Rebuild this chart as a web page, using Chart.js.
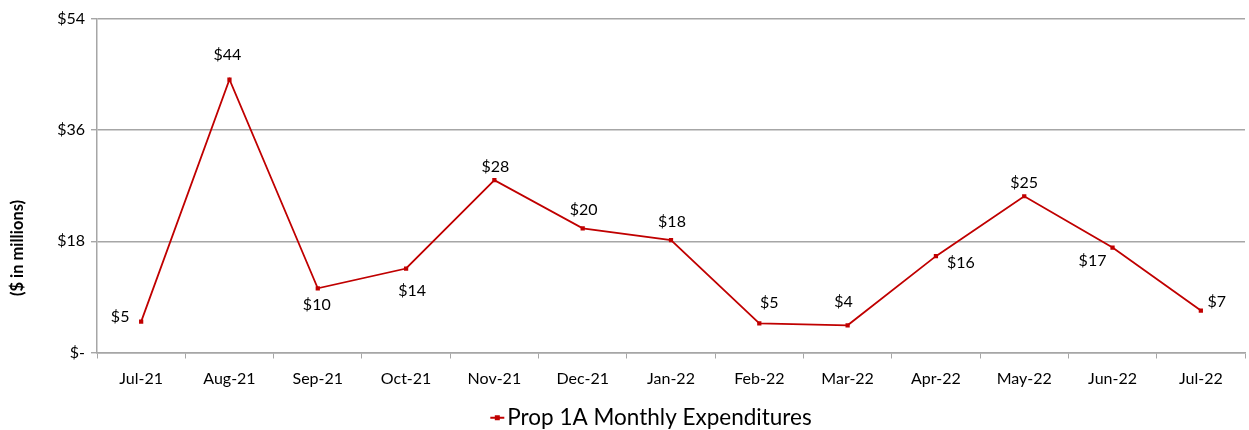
<!DOCTYPE html>
<html>
<head>
<meta charset="utf-8">
<script src="https://cdn.jsdelivr.net/npm/chart.js@4/dist/chart.umd.min.js"></script>
<style>
  html, body { margin:0; padding:0; background:#fff; }
  #wrap { width:1249px; height:430px; }
</style>
</head>
<body>
<div id="wrap"><canvas id="myChart" width="1249" height="430"></canvas></div>
<script>
// months on the x axis
const months = ['Jul-21','Aug-21','Sep-21','Oct-21','Nov-21','Dec-21','Jan-22','Feb-22','Mar-22','Apr-22','May-22','Jun-22','Jul-22'];
// expenditures in $ millions
const spending = [5.0, 44.2, 10.4, 13.6, 27.9, 20.1, 18.2, 4.7, 4.4, 15.6, 25.3, 17.0, 6.8];
// labels shown next to each point
const pointLabels = ['$5','$44','$10','$14','$28','$20','$18','$5','$4','$16','$25','$17','$7'];
const yTicks = [0, 18, 36, 54];

// label nudges (px from the point, label centre)
const labelDx = [-21, -2, -1, 6, 1, 1, 1, 10, -4, 25, 0, -20, 16];
const labelDy = [-5, -25, 17, 22, -13, -19, -18, -21, -23, 7, -13, 13, -9];

const red = '#c00000';
const fontFam = 'Lato, "Open Sans", sans-serif';
const legendFont = 22.5;
const legendBox = 58.75;

const labelPlugin = {
  id: 'pointLabels',
  afterDatasetsDraw(chart){
    const ctx = chart.ctx;
    const meta = chart.getDatasetMeta(0);
    ctx.save();
    ctx.font = '16px ' + fontFam;
    ctx.fillStyle = '#000';
    ctx.textAlign = 'center';
    ctx.textBaseline = 'middle';
    meta.data.forEach((pt,i)=>{
      ctx.fillText(pointLabels[i], pt.x + labelDx[i], pt.y + labelDy[i]);
    });
    ctx.restore();
  }
};

// y title + legend marker (line with a square)
const extrasPlugin = {
  id: 'extras',
  afterDraw(chart){
    const ctx = chart.ctx;
    ctx.save();
    ctx.translate(18, 248);
    ctx.rotate(-Math.PI/2);
    ctx.font = 'bold 16.5px ' + fontFam;
    ctx.fillStyle = '#000';
    ctx.textAlign = 'center';
    ctx.textBaseline = 'middle';
    ctx.fillText('($ in millions)', 0, 0);
    ctx.restore();

    let box = chart.legend.legendHitBoxes[0];
    if(!box) return;
    let textX = box.left + legendBox + legendFont/2;
    let cy = box.top + box.height/2;
    ctx.save();
    ctx.strokeStyle = red; ctx.lineWidth = 2;
    ctx.beginPath(); ctx.moveTo(textX-17, cy); ctx.lineTo(textX-3, cy); ctx.stroke();
    ctx.fillStyle = red; ctx.fillRect(textX-12.5, cy-2.5, 5, 5);
    ctx.restore();
  }
};

const ctx = document.getElementById('myChart');
const myChart = new Chart(ctx, {
  type: 'line',
  data: {
    labels: months,
    datasets: [{
      label: 'Prop 1A Monthly Expenditures',
      data: spending,
      borderColor: red,
      backgroundColor: red,
      borderWidth: 1.8,
      pointStyle: 'rect',
      pointRadius: 3,
      pointBackgroundColor: red,
      pointBorderWidth: 0,
      tension: 0
    }]
  },
  options: {
    responsive: false,
    animation: false,
    layout: { padding: { top: 19, right: 0, left: 0, bottom: -9 } },
    plugins: {
      tooltip: { enabled: false },
      legend: {
        position: 'bottom',
        labels: {
          boxWidth: legendBox,
          boxHeight: 8,
          color: '#000',
          font: { family: fontFam, size: legendFont },
          padding: 2,
          generateLabels(chart){
            return [{
              text: chart.data.datasets[0].label,
              fillStyle: 'rgba(0,0,0,0)',
              strokeStyle: 'rgba(0,0,0,0)',
              lineWidth: 0,
              fontColor: '#000',
              datasetIndex: 0
            }];
          }
        }
      }
    },
    scales: {
      x: {
        offset: true,
        grid: { display: true, drawOnChartArea: false, drawTicks: true, tickLength: 6, color: '#a6a6a6', offset: true },
        border: { color: '#a6a6a6', width: 1.5 },
        ticks: { color: '#000', font: { family: fontFam, size: 16 }, maxRotation: 0, padding: 11 },
        afterFit(scale){ scale.height = 52; }
      },
      y: {
        min: 0,
        max: 54,
        afterBuildTicks(scale){ scale.ticks = yTicks.map(v=>({value:v})); },
        grid: { color: '#a6a6a6', lineWidth: 1.4, tickLength: 6 },
        border: { color: '#a6a6a6', width: 1.5 },
        ticks: {
          color: '#000',
          font: { family: fontFam, size: 16 },
          padding: 6,
          callback: v => v===0 ? '$-' : '$' + v
        },
        afterFit(scale){ scale.width = 97; }
      }
    }
  },
  plugins: [labelPlugin, extrasPlugin]
});
</script>
</body>
</html>
